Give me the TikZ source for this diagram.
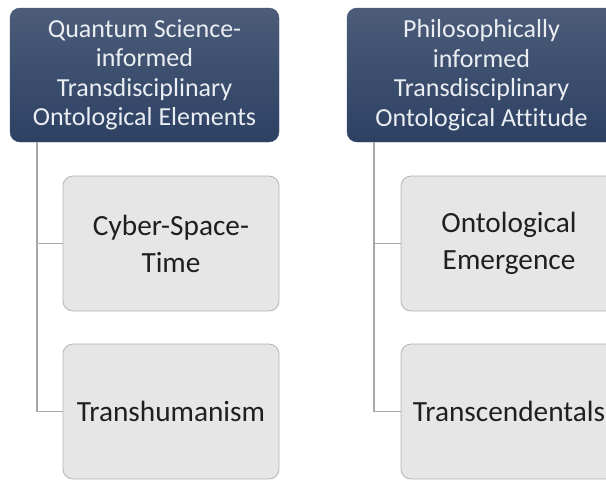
\documentclass[tikz,border=0pt]{standalone}
\usepackage{fontspec}
\setmainfont{Carlito}[Ligatures=NoCommon]
\definecolor{Navy}{HTML}{2D4163}
\definecolor{Slate}{HTML}{4C5C79}
\definecolor{Pale}{HTML}{E6E6E6}
\definecolor{Rim}{HTML}{B4B4B4}
\definecolor{Stem}{HTML}{A8A8A8}
\definecolor{Snow}{HTML}{EAEEF3}

\begin{document}
\begin{tikzpicture}[
    x=1pt,y=-1pt,
    head/.style={rounded corners=10pt,top color=Slate,bottom color=Navy,draw=Navy!90,minimum width=269pt,minimum height=134pt,align=center,text=Snow,font=\fontsize{26}{29.5}\selectfont},
    item/.style={draw=Rim,thick,rounded corners=10pt,fill=Pale,minimum width=216pt,minimum height=135pt,align=center,text=black!88,font=\fontsize{29.3}{37}\selectfont},
    link/.style={draw=Stem,line width=1.5pt}
  ]
    \useasboundingbox (0,0) rectangle (606,480);
    \node[head] (hq) at (144.5,75) {Quantum Science-\\informed\\Transdisciplinary\\Ontological Elements};
    \node[head] (hp) at (481.5,75) {Philosophically\\informed\\Transdisciplinary\\Ontological Attitude};
    \node[item] (cst) at (171,243.5) {Cyber-Space-\\Time};
    \node[item] (trh) at (171,411.5) {Transhumanism};
    \node[item] (emg) at (509,243.5) {Ontological\\Emergence};
    \node[item] (trc) at (509,411.5) {Transcendentals};
    \draw[link] ([xshift=-107.5pt]hq.south) |- (cst.west); \draw[link] ([xshift=-107.5pt]hq.south) |- (trh.west);
    \draw[link] ([xshift=-107.5pt]hp.south) |- (emg.west); \draw[link] ([xshift=-107.5pt]hp.south) |- (trc.west);
  \end{tikzpicture}
\end{document}
